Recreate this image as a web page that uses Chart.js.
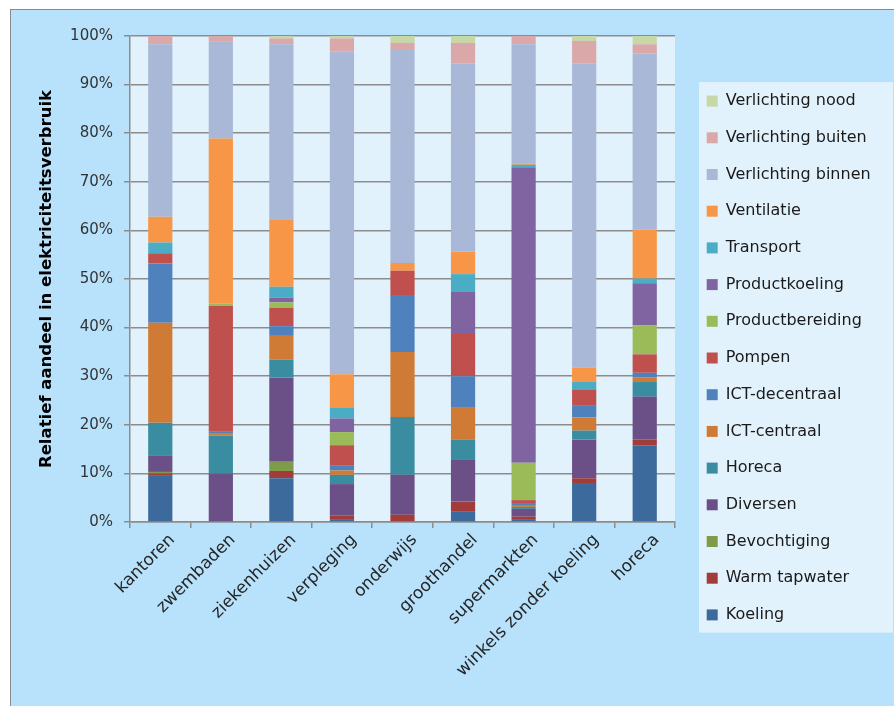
<!DOCTYPE html>
<html>
<head>
<meta charset="utf-8">
<script src="https://cdn.jsdelivr.net/npm/chart.js@4/dist/chart.umd.min.js"></script>
<style>
  html, body { margin: 0; padding: 0; background: #ffffff; }
  #frame {
    position: absolute; left: 10px; top: 9px;
    width: 883px; height: 696px;
    background: #b8e2fc;
    border-left: 1px solid #8a8a8a; border-top: 1px solid #8a8a8a;
  }
  #frame canvas { display: block; }
</style>
</head>
<body>
<div id="frame"><canvas id="verbruikChart" width="883" height="696"></canvas></div>
<script>
// sectoren op de x-as
const sectoren = ["kantoren", "zwembaden", "ziekenhuizen", "verpleging", "onderwijs",
                  "groothandel", "supermarkten", "winkels zonder koeling", "horeca"];

// aandeel per toepassing (%), zelfde volgorde als sectoren
const koeling          = [9.5, 0,    9.0,  0.6,  0,    2.1,  0.6,  8.0,  15.8];
const warmTapwater     = [0.5, 0,    1.5,  0.7,  1.5,  2.1,  0.5,  1.0,  1.1];
const bevochtiging     = [0.3, 0,    1.9,  0,    0,    0,    0,    0,    0];
const diversen         = [3.3, 10.0, 17.3, 6.5,  8.2,  8.7,  1.6,  8.0,  8.9];
const horeca           = [6.8, 7.8,  3.7,  1.9,  11.9, 4.1,  0.4,  1.8,  3.0];
const ictCentraal      = [20.6, 0.5, 4.9,  0.9,  13.4, 6.5,  0.4,  2.7,  0.9];
const ictDecentraal    = [12.2, 0.4, 2.0,  1.1,  11.7, 6.5,  0.4,  2.4,  1.0];
const pompen           = [2.1, 25.8, 3.8,  4.1,  5.0,  8.7,  0.6,  3.4,  3.8];
const productbereiding = [0,   0.4,  1.1,  2.7,  0,    0,    7.7,  0,    6.0];
const productkoeling   = [0,   0,    1.0,  2.8,  0,    8.6,  60.8, 0,    8.6];
const transport        = [2.2, 0,    2.2,  2.3,  0,    3.7,  0.5,  1.5,  1.0];
const ventilatie       = [5.3, 34.0, 13.9, 6.8,  1.6,  4.6,  0.3,  3.0,  10.1];
const verlichtingBinnen= [35.5, 19.9, 36.0, 66.4, 43.8, 38.7, 24.5, 62.5, 36.2];
const verlichtingBuiten= [1.7, 1.2,  1.2,  2.7,  1.5,  4.3,  1.7,  4.7,  1.9];
const verlichtingNood  = [0,   0,    0.5,  0.5,  1.4,  1.4,  0,    1.0,  1.7];

const yTicks = [0, 10, 20, 30, 40, 50, 60, 70, 80, 90, 100];

const series = [
  ["Koeling", koeling, "#3d6a9c"],
  ["Warm tapwater", warmTapwater, "#a23c3a"],
  ["Bevochtiging", bevochtiging, "#7f9a48"],
  ["Diversen", diversen, "#6b5087"],
  ["Horeca", horeca, "#3a8ca0"],
  ["ICT-centraal", ictCentraal, "#cf7b36"],
  ["ICT-decentraal", ictDecentraal, "#4f81bd"],
  ["Pompen", pompen, "#c0504d"],
  ["Productbereiding", productbereiding, "#9bbb59"],
  ["Productkoeling", productkoeling, "#8064a2"],
  ["Transport", transport, "#4bacc6"],
  ["Ventilatie", ventilatie, "#f79646"],
  ["Verlichting binnen", verlichtingBinnen, "#a9b8d6"],
  ["Verlichting buiten", verlichtingBuiten, "#daa8a9"],
  ["Verlichting nood", verlichtingNood, "#c6d8a5"]
];

const FONT = "'DejaVu Sans', Verdana, sans-serif";

// lichte achtergrond achter het plotgebied
const plotBackground = {
  id: "plotBackground",
  beforeDraw(chart) {
    const a = chart.chartArea, ctx = chart.ctx;
    ctx.save();
    ctx.fillStyle = "#e2f2fd";
    ctx.fillRect(a.left, a.top, a.right - a.left, a.bottom - a.top);
    ctx.restore();
  }
};

// legenda in een eigen vak, gecentreerd op de hele canvashoogte
const legendBox = {
  id: "legendBox",
  beforeLayout(chart) {
    const lg = chart.legend;
    if (!lg || lg._boxed) return;
    lg._boxed = true;
    const fit = lg.fit;
    lg.fit = function () {
      fit.call(this);
      this.width = 219;
    };
    const draw = lg.draw;
    lg.draw = function () {
      const left = this.left, top = this.top;
      this.left = left + 11;
      this.top = 0;
      const pad = this.options.labels.padding;
      const colH = this.columnSizes[0].height;
      const y0 = (this.top + pad + this.bottom - colH) / 2;
      const ctx = this.ctx;
      ctx.save();
      ctx.fillStyle = "#e2f2fd";
      ctx.fillRect(left + 24, y0 - 11, 194, colH);
      ctx.restore();
      draw.call(this);
      this.left = left;
      this.top = top;
    };
  }
};

new Chart("verbruikChart", {
  type: "bar",
  data: {
    labels: sectoren,
    datasets: series.map(s => ({
      label: s[0],
      data: s[1],
      backgroundColor: s[2],
      borderWidth: 0,
      barPercentage: 0.4,
      categoryPercentage: 1.0
    }))
  },
  options: {
    responsive: false,
    animation: false,
    layout: { padding: { left: 22, top: 26, right: 0, bottom: 0 } },
    plugins: {
      tooltip: { enabled: false },
      legend: {
        position: "right",
        reverse: true,
        labels: {
          boxWidth: 11,
          boxHeight: 11,
          padding: 20.7,
          color: "#1a1a1a",
          font: { family: FONT, size: 16 }
        }
      }
    },
    scales: {
      x: {
        stacked: true,
        grid: { drawOnChartArea: false, drawTicks: true, tickLength: 6, color: "#8c8c8c", lineWidth: 1.5 },
        border: { color: "#8c8c8c", width: 1.5 },
        ticks: {
          minRotation: 45, maxRotation: 45,
          labelOffset: 12, padding: 2,
          color: "#262626",
          font: { family: FONT, size: 17 }
        },
        afterFit(scale) { scale.height = 184; }
      },
      y: {
        stacked: true,
        min: 0, max: 100,
        afterBuildTicks(scale) { scale.ticks = yTicks.map(v => ({ value: v })); },
        grid: { color: "#8c8c8c", lineWidth: 1.5, tickLength: 6 },
        border: { color: "#8c8c8c", width: 1.5 },
        ticks: {
          padding: 11,
          color: "#333333",
          font: { family: FONT, size: 15 },
          callback: v => v + "%"
        },
        title: {
          display: true,
          text: "Relatief aandeel in elektriciteitsverbruik",
          color: "#000000",
          font: { family: FONT, size: 16.5, weight: "bold" }
        },
        afterFit(scale) { scale.width = 97; }
      }
    }
  },
  plugins: [plotBackground, legendBox]
});
</script>
</body>
</html>
